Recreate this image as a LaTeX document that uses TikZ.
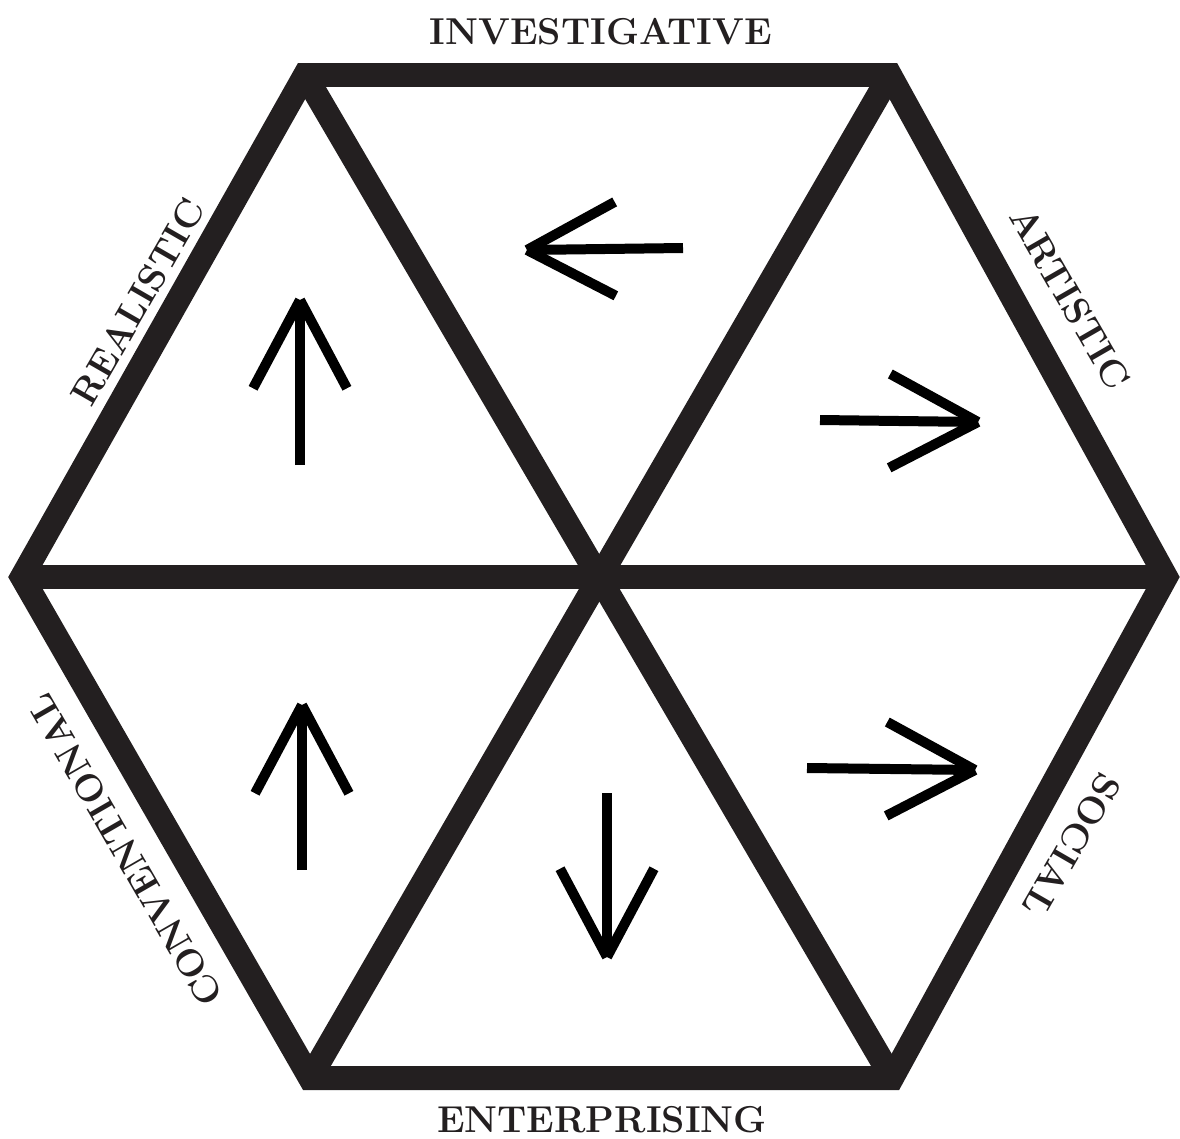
\documentclass[tikz,border=0pt]{standalone}
\usepackage{tikz}
\usetikzlibrary{calc}
\definecolor{inkdark}{RGB}{35,31,32}

\tikzset{
  hexline/.style={draw=inkdark, line width=0.48cm, line join=miter},
  pointer/.style={draw=black, line width=0.2cm, line cap=butt},
  sidelabel/.style={font=\fontsize{21.3}{25}\selectfont\bfseries, text=inkdark, inner sep=0pt}
}

\begin{document}
\begin{tikzpicture}[x=0.02cm, y=-0.02cm]
    \useasboundingbox (0,0) rectangle (1180,1139);
    % hexagon corners and centre
    \coordinate (tl) at (305,75);
    \coordinate (tr) at (890,75);
    \coordinate (rt) at (1166,577);
    \coordinate (br) at (892,1078);
    \coordinate (bl) at (310,1078);
    \coordinate (lf) at (22,577);
    \coordinate (ctr) at (601,577);

    \draw[hexline] (tl) -- (tr) -- (rt) -- (br) -- (bl) -- (lf) -- cycle;
    \draw[hexline] (lf) -- (rt);
    \draw[hexline] (tl) -- (br);
    \draw[hexline] (tr) -- (bl);

    % arrows inside the six triangles
    \foreach \tx/\ty/\hx/\hy [count=\i] in {683/248/527/250, 300/465/300/300,
        820/420/978/422, 807/768/975/770, 302/870/302/705, 607/793/607/957} {
      \coordinate (tail\i) at (\tx,\ty);
      \coordinate (tip\i) at (\hx,\hy);
      \draw[pointer] (tail\i) -- (tip\i);
      \draw[pointer] (tip\i) -- ($(tip\i)!2cm!28:(tail\i)$);
      \draw[pointer] (tip\i) -- ($(tip\i)!2cm!-28:(tail\i)$);
    }

    % side names
    \node[sidelabel] (inv) at (601,32) {INVESTIGATIVE};
    \node[sidelabel, rotate=-60] (art) at (1070,298) {ARTISTIC};
    \node[sidelabel, rotate=240] (soc) at (1072,845) {SOCIAL};
    \node[sidelabel] (ent) at (602,1120) {ENTERPRISING};
    \node[sidelabel, rotate=120] (con) at (125,850) {CONVENTIONAL};
    \node[sidelabel, rotate=60] (rea) at (138,302) {REALISTIC};
  \end{tikzpicture}
\end{document}
